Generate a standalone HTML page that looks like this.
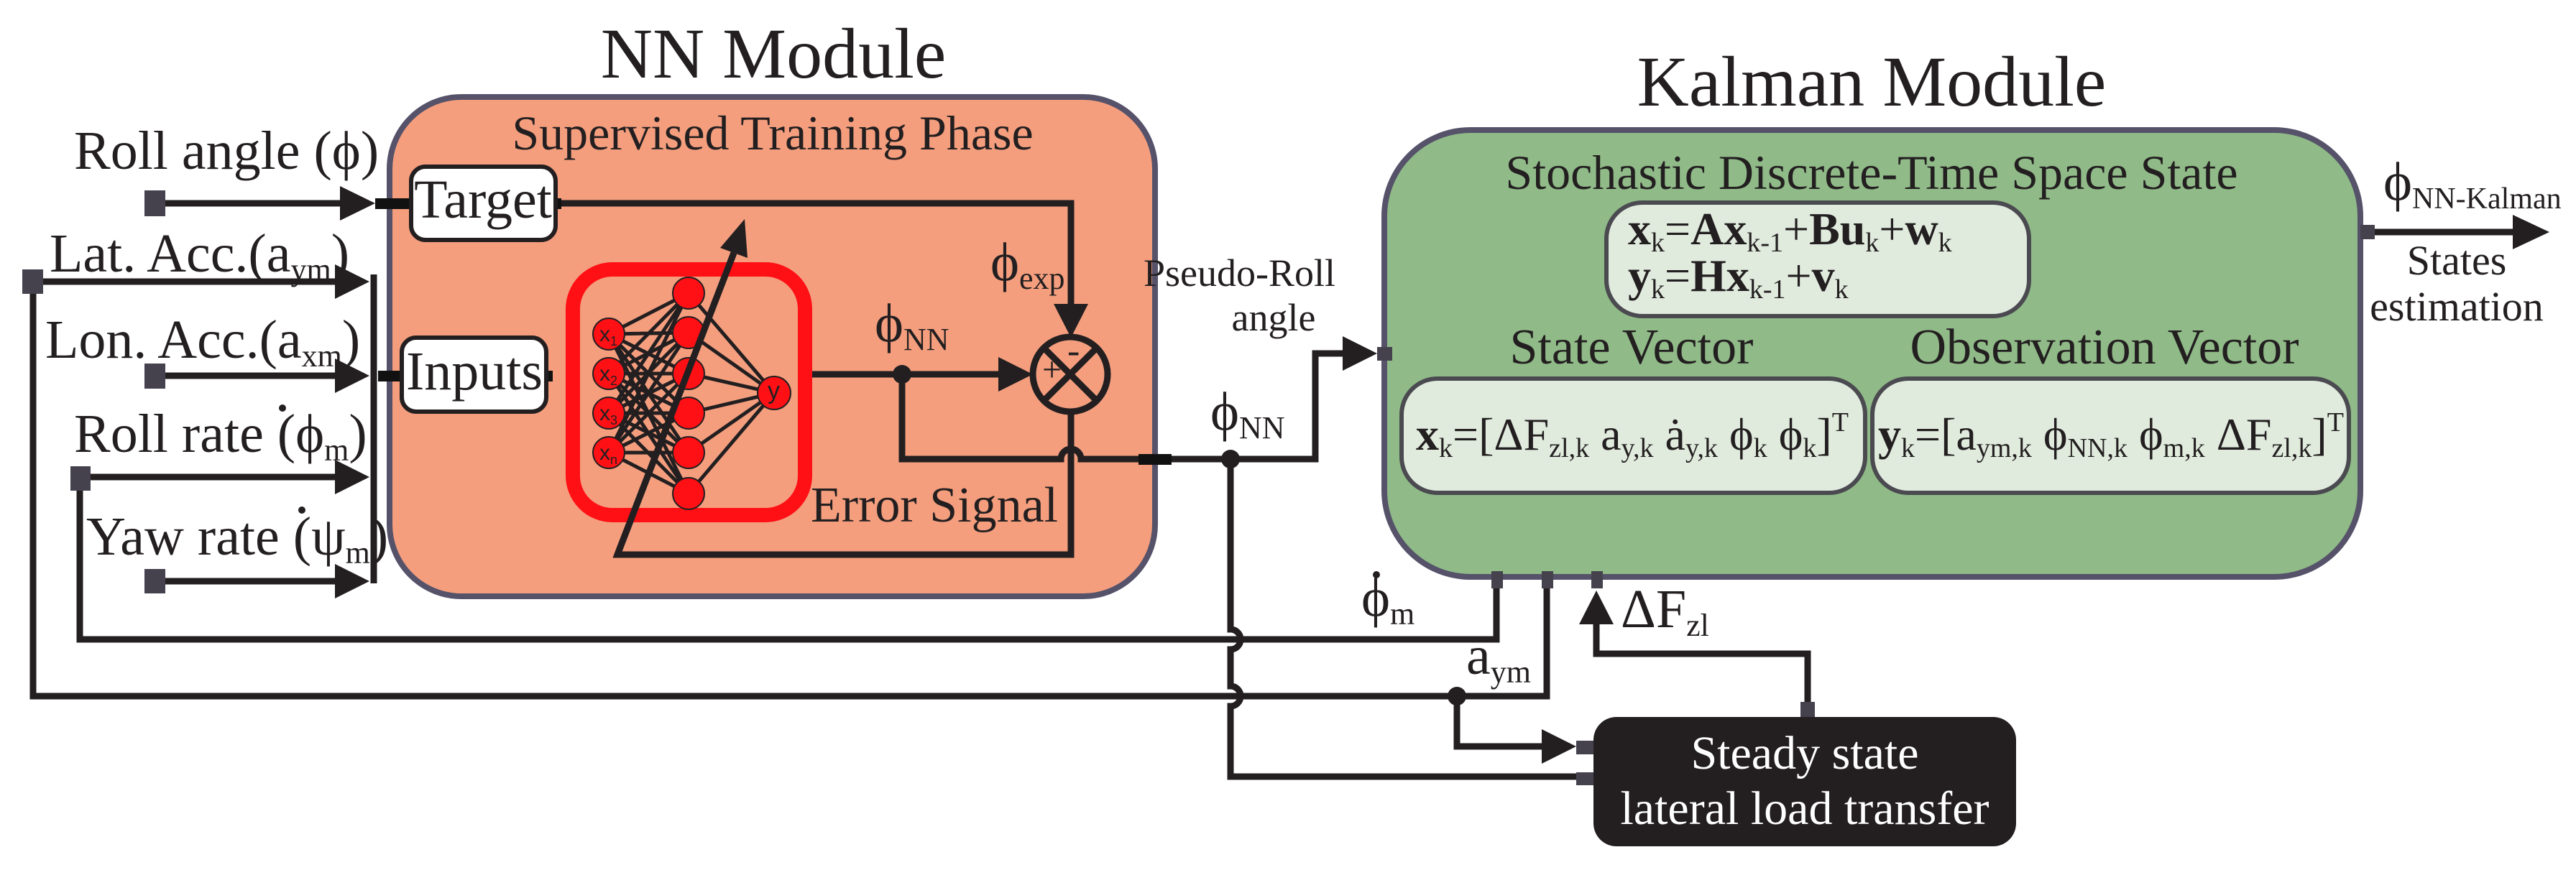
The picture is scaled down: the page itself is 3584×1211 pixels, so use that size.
<!DOCTYPE html>
<html><head><meta charset="utf-8"><style>
html,body{margin:0;padding:0;background:#fff;}
svg{display:block;font-family:"Liberation Serif","Times New Roman",serif;}
svg text{font-family:"Liberation Serif","Times New Roman",serif;fill:#231f20;}
svg text.sans{font-family:"Liberation Sans",Arial,sans-serif;}
</style></head><body>
<svg width="3584" height="1211" viewBox="0 0 3584 1211" xmlns="http://www.w3.org/2000/svg" font-family="Liberation Serif, Times New Roman, serif">
<text x="1076" y="108" font-size="100" text-anchor="middle">NN Module</text>
<text x="2604" y="147" font-size="100" text-anchor="middle">Kalman Module</text>

<rect x="542" y="135" width="1065" height="695" rx="100" fill="#f49e7e" stroke="#55526a" stroke-width="8"/>
<text x="1075" y="208" font-size="68" text-anchor="middle">Supervised Training Phase</text>

<rect x="1926" y="181" width="1358" height="622" rx="120" fill="#90ba88" stroke="#55526a" stroke-width="8"/>
<text x="2604" y="263" font-size="68" text-anchor="middle">Stochastic Discrete-Time Space State</text>

<g stroke="#231f20" stroke-width="9" fill="none">
<line x1="215" y1="283" x2="480" y2="283"/>
<line x1="46" y1="392" x2="472" y2="392"/>
<line x1="215" y1="523" x2="472" y2="523"/>
<line x1="111" y1="664" x2="472" y2="664"/>
<line x1="215" y1="809" x2="472" y2="809"/>
<line x1="520" y1="382" x2="520" y2="812"/>
<polyline points="46,392 46,969 1712,969"/>
<polyline points="111,664 111,890 1712,890"/>
<path d="M1712,969 L2152,969 L2152,815"/>
<path d="M1712,890 L2082,890 L2082,815"/>
<path d="M1712,639 L1712,876 A14,14 0 0 1 1712,904 L1712,955 A14,14 0 0 1 1712,983 L1712,1081 L2196,1081"/>
<polyline points="2027,969 2027,1039 2150,1039"/>
<polyline points="2221,865 2221,910 2515,910 2515,980"/>
<polyline points="781,283 1490,283 1490,428"/>
<line x1="1125" y1="521" x2="1395" y2="521"/>
<path d="M1255,521 L1255,639 L1476,639 A14,14 0 0 1 1504,639 L1830,639 L1830,492 L1872,492"/>
<polyline points="1490,575 1490,772 859,772 1021,352"/>
<circle cx="1489" cy="521" r="52"/>
<line x1="1453" y1="485" x2="1525" y2="557"/>
<line x1="1525" y1="485" x2="1453" y2="557"/>
<line x1="3300" y1="323" x2="3500" y2="323"/>
</g>

<g fill="#231f20">
<polygon points="473,259 522,283 473,307"/>
<polygon points="466,368 514,392 466,416"/>
<polygon points="466,499 514,523 466,547"/>
<polygon points="466,640 514,664 466,688"/>
<polygon points="466,785 514,809 466,833"/>
<polygon points="1466,423 1514,423 1490,470"/>
<polygon points="1389,497 1437,521 1389,545"/>
<polygon points="1868,468 1916,492 1868,516"/>
<polygon points="3496,299 3547,323 3496,347"/>
<polygon points="2145,1015 2193,1039 2145,1063"/>
<polygon points="2197,869 2245,869 2221,822"/>
<polygon points="1036,305 1040,359 1002,345"/>
<circle cx="1255" cy="521" r="13"/>
<circle cx="1712" cy="639" r="13"/>
<circle cx="2027" cy="969" r="13"/>
</g>

<g fill="#45424e">
<rect x="201" y="265" width="29" height="36"/>
<rect x="31" y="375" width="29" height="34"/>
<rect x="201" y="506" width="29" height="35"/>
<rect x="98" y="649" width="28" height="34"/>
<rect x="201" y="792" width="29" height="34"/>
<rect x="1916" y="483" width="21" height="19"/>
<rect x="3284" y="313" width="20" height="20"/>
<rect x="2075" y="795" width="16" height="24"/>
<rect x="2145" y="795" width="16" height="24"/>
<rect x="2214" y="795" width="16" height="24"/>
<rect x="2505" y="977" width="20" height="21"/>
<rect x="2193" y="1031" width="24" height="19"/>
<rect x="2193" y="1075" width="24" height="18"/>
</g>
<g fill="#111">
<rect x="522" y="276" width="50" height="15"/>
<rect x="526" y="516" width="33" height="15"/>
<rect x="1584" y="632" width="46" height="15"/>
<rect x="772" y="276" width="9" height="15"/>
<rect x="760" y="516" width="9" height="15"/>
</g>

<rect x="572" y="232" width="201" height="102" rx="20" fill="#fff" stroke="#231f20" stroke-width="6"/>
<text x="672" y="303" font-size="76" text-anchor="middle">Target</text>
<rect x="559" y="470" width="201" height="103" rx="20" fill="#fff" stroke="#231f20" stroke-width="6"/>
<text x="660" y="542" font-size="76" text-anchor="middle">Inputs</text>

<rect x="797" y="375" width="323" height="342" rx="55" fill="none" stroke="#ff1015" stroke-width="20"/>
<g stroke="#231f20" stroke-width="5">
<path d="M847,465 L958,408 M847,465 L958,463 M847,465 L958,520 M847,465 L958,575 M847,465 L958,630 M847,465 L958,687
M847,520 L958,408 M847,520 L958,463 M847,520 L958,520 M847,520 L958,575 M847,520 L958,630 M847,520 L958,687
M847,575 L958,408 M847,575 L958,463 M847,575 L958,520 M847,575 L958,575 M847,575 L958,630 M847,575 L958,687
M847,630 L958,408 M847,630 L958,463 M847,630 L958,520 M847,630 L958,575 M847,630 L958,630 M847,630 L958,687
M958,408 L1077,547 M958,463 L1077,547 M958,520 L1077,547 M958,575 L1077,547 M958,630 L1077,547 M958,687 L1077,547"/>
</g>
<g fill="#ff1015" stroke="#231f20" stroke-width="2">
<circle cx="847" cy="465" r="22"/><circle cx="847" cy="520" r="22"/><circle cx="847" cy="575" r="22"/><circle cx="847" cy="630" r="22"/>
<circle cx="958" cy="408" r="22"/><circle cx="958" cy="463" r="22"/><circle cx="958" cy="520" r="22"/><circle cx="958" cy="575" r="22"/><circle cx="958" cy="630" r="22"/><circle cx="958" cy="687" r="22"/>
<circle cx="1077" cy="547" r="23"/>
</g>
<line x1="859" y1="772" x2="1021" y2="352" stroke="#231f20" stroke-width="9"/>
<text class="sans" x="834" y="475" font-size="30" font-family="Liberation Sans, Arial, sans-serif">x<tspan font-size="18" dy="6">1</tspan></text>
<text class="sans" x="834" y="530" font-size="30" font-family="Liberation Sans, Arial, sans-serif">x<tspan font-size="18" dy="6">2</tspan></text>
<text class="sans" x="834" y="585" font-size="30" font-family="Liberation Sans, Arial, sans-serif">x<tspan font-size="18" dy="6">3</tspan></text>
<text class="sans" x="834" y="640" font-size="30" font-family="Liberation Sans, Arial, sans-serif">x<tspan font-size="18" dy="6">n</tspan></text>
<text class="sans" x="1068" y="555" font-size="34" font-family="Liberation Sans, Arial, sans-serif">y</text>
<text x="1450" y="530" font-size="48">+</text>
<text x="1485" y="505" font-size="52">-</text>

<text x="1128" y="726" font-size="70">Error Signal</text>
<text x="1378" y="390" font-size="76">ϕ<tspan font-size="44" dy="12">exp</tspan></text>
<text x="1217" y="475" font-size="76">ϕ<tspan font-size="44" dy="12">NN</tspan></text>
<text x="1684" y="598" font-size="76">ϕ<tspan font-size="44" dy="12">NN</tspan></text>
<text x="1858" y="398" font-size="54" text-anchor="end">Pseudo-Roll</text>
<text x="1772" y="460" font-size="54" text-anchor="middle">angle</text>

<text x="103" y="235" font-size="76">Roll angle (ϕ)</text>
<text x="69" y="378" font-size="76">Lat. Acc.(a<tspan font-size="44" dy="12">ym</tspan><tspan dy="-12">)</tspan></text>
<text x="63" y="498" font-size="76">Lon. Acc.(a<tspan font-size="44" dy="12">xm</tspan><tspan dy="-12">)</tspan></text>
<text x="103" y="629" font-size="76">Roll rate (ϕ<tspan font-size="44" dy="12">m</tspan><tspan dy="-12">)</tspan></text>
<text x="120" y="772" font-size="76">Yaw rate (ψ<tspan font-size="44" dy="12">m</tspan><tspan dy="-12">)</tspan></text>
<g fill="#231f20">
<circle cx="393" cy="568" r="5"/>
<circle cx="420" cy="710" r="5"/>
</g>

<rect x="2235" y="282" width="588" height="158" rx="50" fill="#e0ebde" stroke="#4a4a50" stroke-width="6"/>
<text x="2265" y="340" font-size="64"><tspan font-weight="bold">x</tspan><tspan font-size="38" dy="10">k</tspan><tspan dy="-10">=</tspan><tspan font-weight="bold">Ax</tspan><tspan font-size="38" dy="10">k-1</tspan><tspan dy="-10">+</tspan><tspan font-weight="bold">Bu</tspan><tspan font-size="38" dy="10">k</tspan><tspan dy="-10">+</tspan><tspan font-weight="bold">w</tspan><tspan font-size="38" dy="10">k</tspan></text>
<text x="2265" y="405" font-size="64"><tspan font-weight="bold">y</tspan><tspan font-size="38" dy="10">k</tspan><tspan dy="-10">=</tspan><tspan font-weight="bold">Hx</tspan><tspan font-size="38" dy="10">k-1</tspan><tspan dy="-10">+</tspan><tspan font-weight="bold">v</tspan><tspan font-size="38" dy="10">k</tspan></text>

<text x="2270" y="506" font-size="70" text-anchor="middle">State Vector</text>
<text x="2928" y="506" font-size="70" text-anchor="middle">Observation Vector</text>

<rect x="1950" y="527" width="645" height="159" rx="50" fill="#e0ebde" stroke="#4a4a50" stroke-width="6"/>
<text x="1970" y="626" font-size="64"><tspan font-weight="bold">x</tspan><tspan font-size="38" dy="10">k</tspan><tspan dy="-10">=[ΔF</tspan><tspan font-size="38" dy="10">zl,k</tspan><tspan dy="-10"> a</tspan><tspan font-size="38" dy="10">y,k</tspan><tspan dy="-10"> ȧ</tspan><tspan font-size="38" dy="10">y,k</tspan><tspan dy="-10"> ϕ</tspan><tspan font-size="38" dy="10">k</tspan><tspan dy="-10"> ϕ</tspan><tspan font-size="38" dy="10">k</tspan><tspan dy="-10">]</tspan><tspan font-size="38" dy="-26">T</tspan></text>

<rect x="2605" y="527" width="663" height="159" rx="50" fill="#e0ebde" stroke="#4a4a50" stroke-width="6"/>
<text x="2613" y="626" font-size="64"><tspan font-weight="bold">y</tspan><tspan font-size="38" dy="10">k</tspan><tspan dy="-10">=[a</tspan><tspan font-size="38" dy="10">ym,k</tspan><tspan dy="-10"> ϕ</tspan><tspan font-size="38" dy="10">NN,k</tspan><tspan dy="-10"> ϕ</tspan><tspan font-size="38" dy="10">m,k</tspan><tspan dy="-10"> ΔF</tspan><tspan font-size="38" dy="10">zl,k</tspan><tspan dy="-10">]</tspan><tspan font-size="38" dy="-26">T</tspan></text>

<text x="3316" y="278" font-size="76">ϕ<tspan font-size="42" dy="12">NN-Kalman</tspan></text>
<text x="3418" y="382" font-size="58" text-anchor="middle">States</text>
<text x="3418" y="446" font-size="58" text-anchor="middle">estimation</text>

<text x="1894" y="857" font-size="76">ϕ<tspan font-size="44" dy="12">m</tspan></text>
<circle cx="1915" cy="800" r="5" fill="#231f20"/>
<text x="2040" y="938" font-size="76">a<tspan font-size="44" dy="12">ym</tspan></text>
<text x="2255" y="873" font-size="76">ΔF<tspan font-size="44" dy="12">zl</tspan></text>

<rect x="2217" y="998" width="588" height="180" rx="32" fill="#231f20"/>
<text x="2511" y="1070" font-size="66" text-anchor="middle" style="fill:#fff">Steady state</text>
<text x="2511" y="1147" font-size="66" text-anchor="middle" style="fill:#fff">lateral load transfer</text>
</svg>
</body></html>
